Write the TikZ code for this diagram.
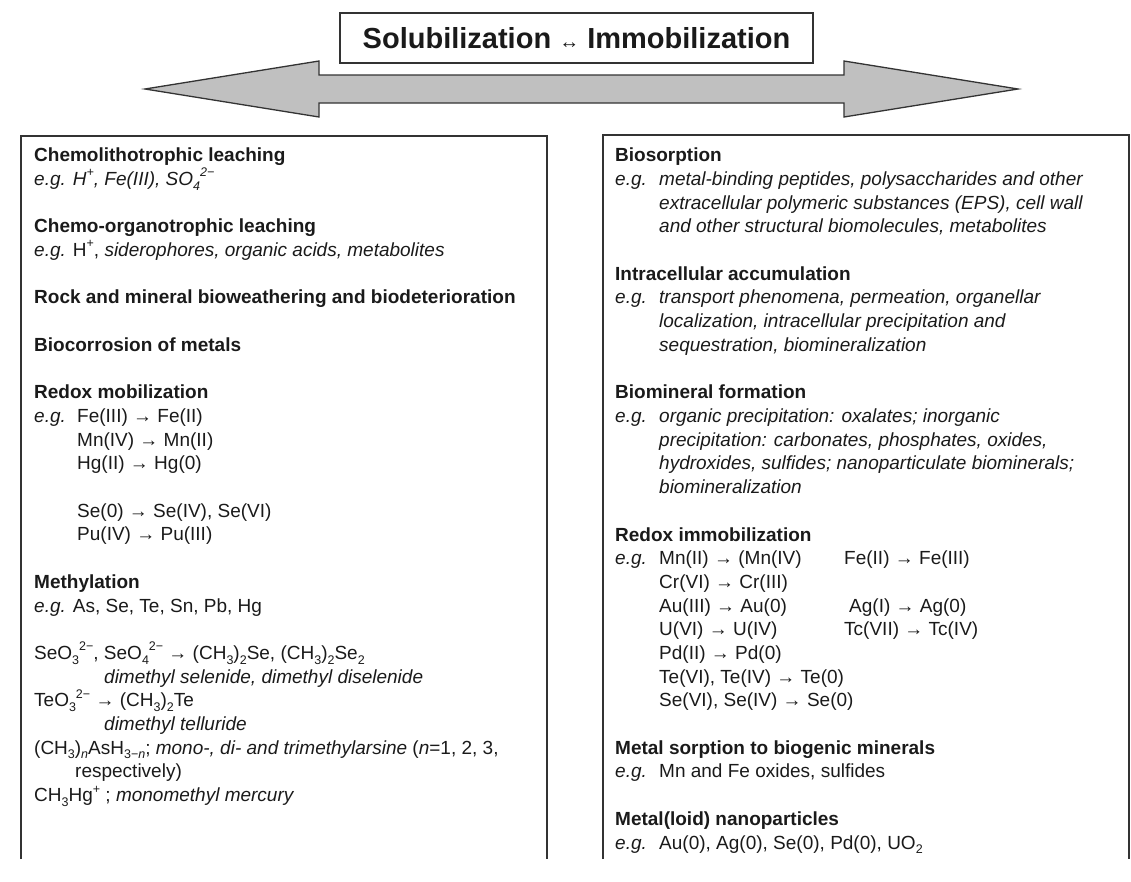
\documentclass[tikz,border=0pt]{standalone}
\usepackage{fontspec}
\setmainfont{Liberation Sans}
\newcommand\sbs[1]{\raisebox{-0.25em}{\fontsize{12.5}{12.5}\selectfont #1}}
\newcommand\sps[1]{\raisebox{0.45em}{\fontsize{12.5}{12.5}\selectfont #1}}
\newcommand\eg{\textit{e.g.}}
\definecolor{ink}{HTML}{1A1A1A}
\definecolor{rule}{HTML}{333333}
\definecolor{arrowgray}{HTML}{C0C0C0}
\tikzset{
  tx/.style={anchor=base west, inner sep=0pt, text=ink, font=\fontsize{19}{23.7}\selectfont},
  hd/.style={anchor=base west, inner sep=0pt, text=ink, font=\fontsize{19}{23.7}\selectfont\bfseries},
  boxline/.style={draw=rule, line width=1.4pt},
  bigarrow/.style={draw=rule, line width=1.3pt, fill=arrowgray, line join=miter}
}
\begin{document}
\begin{tikzpicture}[x=1pt,y=-1pt]
\useasboundingbox (0,0) rectangle (1131,881);
% title
\node[draw=rule, line width=1.4pt, minimum width=473pt, minimum height=50pt, inner sep=0pt,
      text=ink, font=\fontsize{29}{29}\selectfont\bfseries] (title) at (576.5,38)
  {Solubilization {\mdseries\fontsize{20}{20}\selectfont ↔} Immobilization};
% double arrow
\coordinate (ltip) at (145,89);
\coordinate (rtip) at (1018,89);
\draw[bigarrow] (ltip) -- (319,61) -- (319,75) -- (844,75) -- (844,61) -- (rtip)
  -- (844,117) -- (844,103) -- (319,103) -- (319,117) -- cycle;
% boxes
\draw[boxline] (21,859) -- (21,136) -- (547,136) -- (547,859);
\draw[boxline] (603,859) -- (603,135) -- (1129,135) -- (1129,859);

% ---------- left box ----------
\node[hd] (l0) at (34,161.7) {Chemolithotrophic leaching};
\node[tx] (l1) at (34,185.4) {\itshape e.g. H\sps{+}, Fe(III), SO\sbs{4}\sps{2−}};
\node[hd] (l3) at (34,232.8) {Chemo-organotrophic leaching};
\node[tx] (l4) at (34,256.5) {\eg{} H\sps{+}, \textit{siderophores, organic acids, metabolites}};
\node[hd] (l6) at (34,303.9) {Rock and mineral bioweathering and biodeterioration};
\node[hd] (l8) at (34,351.3) {Biocorrosion of metals};
\node[hd] (l10) at (34,398.7) {Redox mobilization};
\node[tx] (l11e) at (34,422.4) {\eg};
\node[tx] (l11) at (77,422.4) {Fe(III) → Fe(II)};
\node[tx] (l12) at (77,446.1) {Mn(IV) → Mn(II)};
\node[tx] (l13) at (77,469.8) {Hg(II) → Hg(0)};
\node[tx] (l15) at (77,517.2) {Se(0) → Se(IV), Se(VI)};
\node[tx] (l16) at (77,540.9) {Pu(IV) → Pu(III)};
\node[hd] (l18) at (34,588.3) {Methylation};
\node[tx] (l19) at (34,612.0) {\eg{} As, Se, Te, Sn, Pb, Hg};
\node[tx] (l21) at (34,659.4) {SeO\sbs{3}\sps{2−}, SeO\sbs{4}\sps{2−} → (CH\sbs{3})\sbs{2}Se, (CH\sbs{3})\sbs{2}Se\sbs{2}};
\node[tx] (l22) at (104,683.1) {\itshape dimethyl selenide, dimethyl diselenide};
\node[tx] (l23) at (34,706.8) {TeO\sbs{3}\sps{2−} → (CH\sbs{3})\sbs{2}Te};
\node[tx] (l24) at (104,730.5) {\itshape dimethyl telluride};
\node[tx] (l25) at (34,754.2) {(CH\sbs{3})\sbs{\itshape n}AsH\sbs{3−\itshape n}; \textit{mono-, di- and trimethylarsine} (\textit{n}=1, 2, 3,};
\node[tx] (l26) at (75,777.9) {respectively)};
\node[tx] (l27) at (34,801.6) {CH\sbs{3}Hg\sps{+} ; \textit{monomethyl mercury}};

% ---------- right box ----------
\node[hd] (r0) at (615,161.7) {Biosorption};
\node[tx] (r1e) at (615,185.4) {\eg};
\node[tx] (r1) at (659,185.4) {\itshape metal-binding peptides, polysaccharides and other};
\node[tx] (r2) at (659,209.1) {\itshape extracellular polymeric substances (EPS), cell wall};
\node[tx] (r3) at (659,232.8) {\itshape and other structural biomolecules, metabolites};
\node[hd] (r5) at (615,280.2) {Intracellular accumulation};
\node[tx] (r6e) at (615,303.9) {\eg};
\node[tx] (r6) at (659,303.9) {\itshape transport phenomena, permeation, organellar};
\node[tx] (r7) at (659,327.6) {\itshape localization, intracellular precipitation and};
\node[tx] (r8) at (659,351.3) {\itshape sequestration, biomineralization};
\node[hd] (r10) at (615,398.7) {Biomineral formation};
\node[tx] (r11e) at (615,422.4) {\eg};
\node[tx] (r11) at (659,422.4) {\itshape organic precipitation: oxalates; inorganic};
\node[tx] (r12) at (659,446.1) {\itshape precipitation: carbonates, phosphates, oxides,};
\node[tx] (r13) at (659,469.8) {\itshape hydroxides, sulfides; nanoparticulate biominerals;};
\node[tx] (r14) at (659,493.5) {\itshape biomineralization};
\node[hd] (r16) at (615,541.0) {Redox immobilization};
\node[tx] (r17e) at (615,564.6) {\eg};
\node[tx] (r17) at (659,564.6) {Mn(II) → (Mn(IV)};
\node[tx] (r17b) at (844,564.6) {Fe(II) → Fe(III)};
\node[tx] (r18) at (659,588.3) {Cr(VI) → Cr(III)};
\node[tx] (r19) at (659,612.0) {Au(III) → Au(0)};
\node[tx] (r19b) at (849,612.0) {Ag(I) → Ag(0)};
\node[tx] (r20) at (659,635.7) {U(VI) → U(IV)};
\node[tx] (r20b) at (844,635.7) {Tc(VII) → Tc(IV)};
\node[tx] (r21) at (659,659.4) {Pd(II) → Pd(0)};
\node[tx] (r22) at (659,683.1) {Te(VI), Te(IV) → Te(0)};
\node[tx] (r23) at (659,706.8) {Se(VI), Se(IV) → Se(0)};
\node[hd] (r25) at (615,754.2) {Metal sorption to biogenic minerals};
\node[tx] (r26e) at (615,777.9) {\eg};
\node[tx] (r26) at (659,777.9) {Mn and Fe oxides, sulfides};
\node[hd] (r28) at (615,825.3) {Metal(loid) nanoparticles};
\node[tx] (r29e) at (615,849.0) {\eg};
\node[tx] (r29) at (659,849.0) {Au(0), Ag(0), Se(0), Pd(0), UO\sbs{2}};
\end{tikzpicture}
\end{document}
